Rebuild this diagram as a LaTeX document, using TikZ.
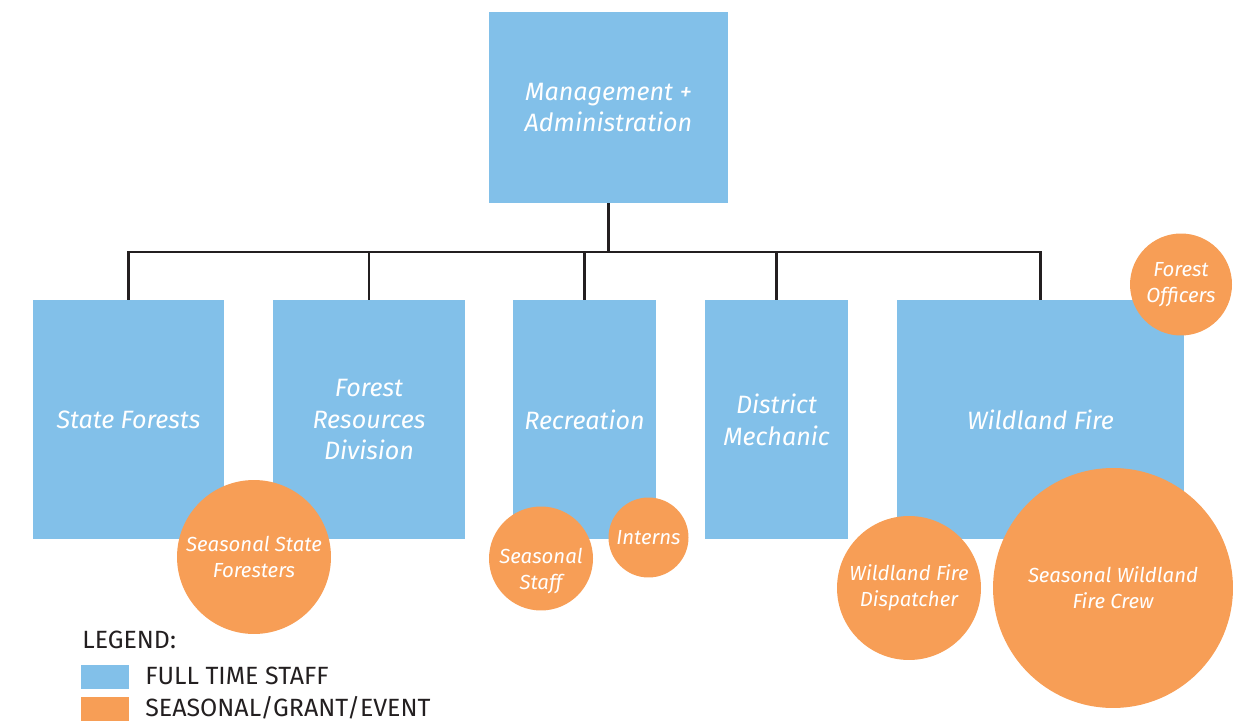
\documentclass[tikz,border=0pt]{standalone}
\usepackage{fontspec}
\setmainfont{Fira Sans}
\definecolor{staffblue}{HTML}{82C0E9}
\definecolor{seasonorange}{HTML}{F79E56}
\definecolor{inkgray}{HTML}{231F20}
\tikzset{
  unit/.style={fill=staffblue, text=white, font=\fontsize{14.3}{18.2}\selectfont\itshape, align=center, inner sep=0pt},
  crew/.style={circle, fill=seasonorange, text=white, font=\fontsize{11.6}{14.8}\selectfont\itshape, align=center, inner sep=0pt},
  orgline/.style={draw=inkgray, line width=1.4pt},
  legendtext/.style={text=inkgray, font=\fontsize{14.2}{16}\selectfont, anchor=base west, inner sep=0pt},
  swatch/.style={minimum width=0.96cm, minimum height=0.48cm, inner sep=0pt}
}
\begin{document}
\begin{tikzpicture}[x=0.02cm,y=-0.02cm]
\useasboundingbox (0,0) rectangle (1246,722);
% head of the chart
\node[unit, minimum width=4.78cm, minimum height=3.82cm] (mgmt) at (608.5,107.5) {Management +\\Administration};
% the five units
\node[unit, minimum width=3.82cm, minimum height=4.78cm] (state) at (128.5,419.5) {State Forests};
\node[unit, minimum width=3.84cm, minimum height=4.78cm] (resources) at (369,419.5) {Forest\\Resources\\Division};
\node[unit, minimum width=2.86cm, minimum height=4.78cm] (recreation) at (584.5,419.5) {Recreation};
\node[unit, minimum width=2.86cm, minimum height=4.78cm] (mechanic) at (776.5,419.5) {District\\Mechanic};
\node[unit, minimum width=5.74cm, minimum height=4.78cm] (fire) at (1040.5,419.5) {Wildland Fire};
% connectors
\coordinate (hub) at (608.5,252);
\draw[orgline] (mgmt.south) -- (hub);
\foreach \u in {state,resources,recreation,mechanic,fire}
  \draw[orgline] (\u.north) |- (hub);
% seasonal, grant and event staff
\node[crew, minimum size=3.08cm] (foresters) at (254,557) {Seasonal State\\Foresters};
\node[crew, minimum size=2.08cm] (seasonal) at (541,558.5) {\raisebox{-0.36cm}[0pt][0pt]{\begin{tabular}{@{}c@{}}Seasonal\\Staff\end{tabular}}};
\node[crew, minimum size=1.6cm] (interns) at (648.5,537.5) {Interns};
\node[crew, minimum size=2.04cm] (officers) at (1181,284.5) {Forest\\Officers};
\node[crew, minimum size=2.88cm] (dispatcher) at (909,588) {Wildland Fire\\Dispatcher};
\node[crew, minimum size=4.8cm] (firecrew) at (1113,588) {Seasonal Wildland\\Fire Crew};
% legend
\node[legendtext] (legend) at (82,648) {LEGEND:};
\node[swatch, fill=staffblue] (fullkey) at (105,677) {};
\node[legendtext] (fulltext) at (145,684) {FULL TIME STAFF};
\node[swatch, fill=seasonorange] (seasonkey) at (105,709) {};
\node[legendtext] (seasontext) at (145,716) {SEASONAL/GRANT/EVENT};
\end{tikzpicture}
\end{document}
